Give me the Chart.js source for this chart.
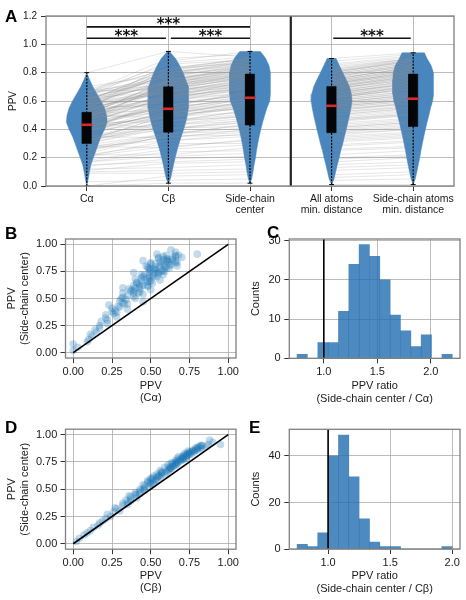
<!DOCTYPE html>
<html><head><meta charset="utf-8">
<script src="https://cdn.jsdelivr.net/npm/chart.js@4.4.0/dist/chart.umd.min.js"></script>
<style>
html,body{margin:0;padding:0;background:#fff;}
body{width:466px;height:600px;position:relative;overflow:hidden;font-family:'Liberation Sans',Arial,Helvetica,sans-serif;}
canvas{position:absolute;}
.lab{position:absolute;font:bold 17px 'Liberation Sans',Arial,sans-serif;line-height:17px;color:#000;z-index:5;}
</style></head><body>
<canvas id="cA" width="466" height="216" style="left:0;top:0"></canvas>
<canvas id="cB" width="240" height="180" style="left:0;top:230px"></canvas>
<canvas id="cC" width="226" height="180" style="left:240px;top:230px"></canvas>
<canvas id="cD" width="240" height="180" style="left:0;top:420px"></canvas>
<canvas id="cE" width="226" height="180" style="left:240px;top:420px"></canvas>
<div class="lab" style="left:5px;top:8px">A</div>
<div class="lab" style="left:5px;top:225px">B</div>
<div class="lab" style="left:267px;top:224px">C</div>
<div class="lab" style="left:5px;top:419px">D</div>
<div class="lab" style="left:249px;top:419px">E</div>
<script>
// ---------- DATA ----------
const catLabels = [['Cα'], ['Cβ'], ['Side-chain', 'center'], ['All atoms', 'min. distance'], ['Side-chain atoms', 'min. distance']];
const catPos = [0, 1, 2, 3, 4];
const yTicksA = [0, 0.2, 0.4, 0.6, 0.8, 1.0, 1.2];

// per-protein PPV values
const ppvSC = [.02,.05,.08,.10,.12,.15,.17,.19,.21,.23, .25,.27,.29,.30,.32,.33,.35,.36,.37,.38, .39,.40,.41,.42,.43,.44,.45,.46,.47,.48, .49,.50,.51,.52,.53,.54,.55,.55,.56,.57, .57,.58,.59,.59,.60,.60,.61,.61,.62,.62, .63,.64,.65,.66,.66,.67,.68,.69,.70,.70, .71,.72,.72,.73,.74,.74,.75,.76,.76,.77, .77,.78,.78,.79,.79,.80,.80,.81,.81,.82, .82,.83,.83,.84,.84,.85,.85,.86,.86,.87, .87,.88,.88,.89,.90,.90,.91,.93,.95,.91,
  .62,.64,.66,.68,.70,.72,.74,.76,.78,.80, .82,.84,.86,.88,.90,.65,.69,.73,.77,.81, .85,.89,.58,.55,.50,.45,.83,.79,.75,.71];
const ppvCa = [.00,.03,.00,.09,.10,.12,.11,.15,.14,.17, .17,.22,.18,.22,.21,.28,.21,.26,.28,.25, .27,.35,.25,.30,.29,.23,.35,.32,.45,.30, .34,.40,.32,.39,.35,.45,.32,.39,.43,.37, .39,.50,.36,.43,.40,.32,.48,.43,.48,.39, .43,.51,.41,.49,.44,.56,.40,.49,.54,.45, .49,.58,.44,.53,.49,.39,.59,.54,.58,.49, .53,.62,.49,.59,.53,.67,.47,.58,.62,.53, .57,.66,.50,.61,.56,.45,.66,.61,.64,.55, .60,.70,.55,.66,.60,.68,.54,.66,.63,.80,
  .45,.41,.50,.47,.52,.46,.55,.50,.60,.56, .50,.62,.58,.64,.66,.48,.44,.55,.52,.63, .60,.58,.38,.42,.31,.33,.67,.48,.57,.51];
const ppvCb = [.02,.04,.07,.09,.11,.13,.16,.17,.19,.21, .24,.22,.26,.30,.28,.27,.32,.35,.32,.35, .37,.34,.37,.41,.37,.36,.41,.43,.40,.43, .46,.43,.46,.49,.46,.45,.50,.52,.48,.49, .52,.48,.51,.54,.51,.50,.54,.56,.52,.55, .57,.54,.57,.61,.57,.56,.61,.63,.59,.62, .65,.61,.64,.67,.64,.63,.67,.69,.66,.68, .71,.67,.70,.73,.70,.68,.73,.74,.71,.73, .76,.72,.75,.78,.75,.74,.77,.80,.77,.80, .83,.79,.82,.86,.83,.82,.87,.90,.88,.95,
  .55,.59,.60,.62,.63,.66,.67,.69,.72,.71, .75,.76,.79,.80,.83,.57,.63,.66,.70,.73, .78,.81,.53,.50,.45,.40,.74,.71,.66,.64];
const ppvAll = [.01,.04,.06,.08,.11,.13,.15,.17,.19,.20, .22,.25,.26,.28,.29,.31,.32,.33,.34,.35, .36,.37,.38,.38,.39,.40,.41,.42,.43,.44, .45,.46,.47,.47,.48,.49,.50,.51,.52,.52, .53,.54,.54,.55,.55,.56,.56,.57,.57,.58, .58,.59,.60,.60,.61,.61,.62,.62,.63,.62, .63,.64,.64,.65,.65,.66,.66,.67,.68,.68, .69,.69,.70,.70,.71,.71,.72,.72,.73,.73, .74,.74,.75,.75,.76,.77,.77,.78,.79,.79, .80,.81,.81,.82,.83,.84,.85,.86,.88,.90,
  .56,.58,.60,.62,.63,.65,.67,.69,.70,.72, .74,.76,.78,.80,.82,.59,.62,.66,.70,.73, .77,.80,.53,.50,.46,.41,.75,.72,.68,.64];
const ppvSCmin = [.01,.05,.08,.10,.13,.15,.17,.20,.21,.22, .25,.27,.28,.31,.32,.34,.35,.36,.37,.38, .40,.40,.41,.42,.43,.44,.45,.46,.47,.48, .50,.50,.51,.52,.53,.54,.55,.56,.56,.57, .58,.58,.59,.60,.60,.61,.61,.62,.62,.63, .63,.64,.65,.66,.67,.67,.68,.69,.70,.71, .71,.72,.73,.73,.74,.75,.75,.76,.77,.77, .78,.78,.79,.79,.80,.80,.81,.81,.82,.82, .83,.83,.84,.84,.85,.85,.86,.86,.87,.87, .88,.88,.89,.89,.90,.90,.91,.92,.93,.94,
  .61,.65,.66,.69,.70,.73,.74,.75,.78,.81, .82,.83,.86,.89,.90,.64,.69,.72,.77,.80, .85,.88,.59,.55,.51,.45,.84,.79,.76,.71];

// violin outlines: PPV levels and relative half-widths
const violinY = [
  [0,.05,.10,.15,.20,.25,.30,.35,.40,.45,.50,.55,.60,.65,.70,.75,.80],
  [.02,.05,.10,.15,.20,.25,.30,.35,.40,.45,.50,.55,.60,.65,.70,.75,.80,.85,.90,.95],
  [.02,.05,.10,.15,.20,.25,.30,.35,.40,.45,.50,.55,.60,.65,.70,.75,.80,.85,.90,.93,.95],
  [.01,.05,.10,.15,.20,.25,.30,.35,.40,.45,.50,.55,.60,.65,.70,.75,.80,.85,.90],
  [.01,.05,.10,.15,.20,.25,.30,.35,.40,.45,.50,.55,.60,.65,.70,.75,.80,.85,.90,.94]
];
const violinW = [
  [0,.07,.13,.20,.32,.45,.57,.70,.87,1.0,.97,.87,.70,.50,.30,.14,0],
  [0,.10,.18,.25,.33,.42,.52,.63,.75,.85,.93,.98,1.0,1.0,.97,.85,.72,.55,.35,.05],
  [0,.08,.15,.20,.27,.32,.38,.45,.53,.62,.72,.83,.97,1.0,1.0,1.0,1.0,.93,.77,.62,.50],
  [0,.12,.20,.28,.37,.45,.55,.63,.72,.80,.88,.95,1.0,.97,.88,.72,.55,.38,.22],
  [0,.10,.18,.25,.32,.38,.45,.52,.60,.68,.77,.85,.95,1.0,1.0,1.0,.98,.88,.68,.55]
];
// box-plot statistics
const boxMin = [0.0, 0.02, 0.02, 0.01, 0.01];
const boxQ1  = [0.30, 0.38, 0.43, 0.376, 0.42];
const boxMed = [0.432, 0.545, 0.623, 0.566, 0.616];
const boxQ3  = [0.52, 0.70, 0.79, 0.703, 0.79];
const boxMax = [0.80, 0.95, 0.95, 0.90, 0.94];
// significance brackets
const sigX1 = [0, 1.03, 0, 3.02];
const sigX2 = [0.97, 2, 2, 3.97];
const sigY  = [1.043, 1.043, 1.123, 1.043];
const sigText = ['***', '***', '***', '***'];
const sepX = [2.5];

// scatter panels
const ticksUnit = [0, 0.25, 0.5, 0.75, 1.0];
const identity = [0, 1];

// histograms
const histCx = [0.798,0.895,0.992,1.088,1.185,1.282,1.378,1.475,1.572,1.668,1.765,1.862,1.958,2.055,2.152];
const histCn = [1,0,4,4,12,24,29,26,20,11,7,3,6,0,1];
const histEx = [0.792,0.875,0.958,1.042,1.125,1.208,1.292,1.375,1.458,1.542,1.625,1.708,1.792,1.875,1.958];
const histEn = [2,1,7,40,49,31,13,3,1,1,0,0,0,0,1];
const ratioRef = [1.0];
const ticksRatio = [1.0, 1.5, 2.0];
const ticksCountC = [0, 10, 20, 30];
const ticksCountE = [0, 20, 40];

// ---------- STYLE ----------
Chart.defaults.font.family = "'Liberation Sans', Arial, Helvetica, sans-serif";
Chart.defaults.color = '#1a1a1a';
const GRID = '#ababab', FRAME = '#808080', TICKC = '#333';
const VIOLIN = '#4a86be';
const HIST = 'rgba(38,112,178,0.82)';
const PT = 'rgba(31,119,180,0.27)';
const LINEGRAY = 'rgba(140,140,140,0.28)';
const VHALF = 0.25, BOXHALF = 0.056, MEDHALF = 0.068, CAPHALF = 0.03;

const framePlugin = {
  id: 'frame',
  afterDatasetsDraw(chart, args, o) {
    const a = chart.chartArea, c = chart.ctx;
    c.save(); c.strokeStyle = o.color || FRAME; c.lineWidth = o.width || 1.2;
    c.strokeRect(a.left, a.top, a.width, a.height); c.restore();
  }
};
const sigPlugin = {
  id: 'sig',
  afterDatasetsDraw(chart) {
    const {ctx, scales: {x, y}} = chart;
    ctx.save();
    ctx.font = "bold 15px 'DejaVu Sans', sans-serif";
    ctx.textAlign = 'center'; ctx.textBaseline = 'alphabetic'; ctx.fillStyle = '#111';
    sigText.forEach((t, i) => {
      const px = (x.getPixelForValue(sigX1[i]) + x.getPixelForValue(sigX2[i])) / 2;
      const py = y.getPixelForValue(sigY[i]);
      ctx.fillText(t, px, py + 2.5);
    });
    ctx.restore();
  }
};

function axis(o) {
  const horiz = o.pos === 'bottom';
  return {
    type: 'linear', position: o.pos, min: o.min, max: o.max, bounds: 'data', offset: false,
    afterBuildTicks: s => { s.ticks = o.ticks.map(v => ({value: v})); },
    afterFit: s => { if (horiz) s.height = o.size; else s.width = o.size;
      s.paddingLeft = 0; s.paddingRight = 0; s.paddingTop = 0; s.paddingBottom = 0; },
    grid: {color: GRID, lineWidth: 0.8, tickColor: TICKC, tickLength: 5, tickWidth: 1, drawTicks: true, offset: false},
    border: {display: false},
    ticks: {autoSkip: false, maxRotation: 0, minRotation: 0, padding: o.tickPad,
      font: {size: o.fontSize, lineHeight: o.tickLH || 1.2}, callback: o.fmt, color: '#1a1a1a'},
    title: {display: !!o.title, text: o.title, font: o.titleFont, padding: o.titlePad, color: '#1a1a1a'}
  };
}
const baseOpts = (padding) => ({
  responsive: false, animation: false, events: [],
  layout: {padding},
  plugins: {legend: {display: false}, tooltip: {enabled: false}, frame: {color: FRAME, width: 1.3}}
});

// ---------- PANEL A ----------
const dsA = [];
violinY.forEach((ys, i) => {
  const ws = violinW[i], c = catPos[i], pts = [];
  for (let k = 0; k < ys.length; k++) pts.push({x: c + ws[k] * VHALF, y: ys[k]});
  for (let k = ys.length - 1; k >= 0; k--) pts.push({x: c - ws[k] * VHALF, y: ys[k]});
  dsA.push({data: pts, fill: 'shape', backgroundColor: VIOLIN, borderColor: VIOLIN, borderWidth: 0.5, pointRadius: 0, order: 10});
});
for (let i = 0; i < ppvSC.length; i++) {
  dsA.push({data: [{x: catPos[0], y: ppvCa[i]}, {x: catPos[1], y: ppvCb[i]}, {x: catPos[2], y: ppvSC[i]}],
    borderColor: LINEGRAY, borderWidth: 0.8, pointRadius: 0, fill: false, order: 9});
  dsA.push({data: [{x: catPos[3], y: ppvAll[i]}, {x: catPos[4], y: ppvSCmin[i]}],
    borderColor: LINEGRAY, borderWidth: 0.8, pointRadius: 0, fill: false, order: 9});
}
catPos.forEach((c, i) => {
  dsA.push({data: [{x: c, y: boxMin[i]}, {x: c, y: boxMax[i]}], borderColor: '#000', borderWidth: 1.2, borderDash: [2, 1.3], pointRadius: 0, order: 7});
  dsA.push({data: [{x: c - CAPHALF, y: boxMin[i]}, {x: c + CAPHALF, y: boxMin[i]}], borderColor: '#000', borderWidth: 1, pointRadius: 0, order: 7});
  dsA.push({data: [{x: c - CAPHALF, y: boxMax[i]}, {x: c + CAPHALF, y: boxMax[i]}], borderColor: '#000', borderWidth: 1, pointRadius: 0, order: 7});
  dsA.push({data: [{x: c - BOXHALF, y: boxQ1[i]}, {x: c + BOXHALF, y: boxQ1[i]}, {x: c + BOXHALF, y: boxQ3[i]}, {x: c - BOXHALF, y: boxQ3[i]}, {x: c - BOXHALF, y: boxQ1[i]}],
    fill: 'shape', backgroundColor: '#050505', borderColor: '#050505', borderWidth: 0.5, pointRadius: 0, order: 6});
  dsA.push({data: [{x: c - MEDHALF, y: boxMed[i]}, {x: c + MEDHALF, y: boxMed[i]}], borderColor: '#d42a2a', borderWidth: 2.6, pointRadius: 0, order: 5});
});
sepX.forEach(s => dsA.push({data: [{x: s, y: yTicksA[0]}, {x: s, y: yTicksA[yTicksA.length - 1]}], borderColor: '#222', borderWidth: 2.2, pointRadius: 0, order: 3}));
sigY.forEach((yy, i) => dsA.push({data: [{x: sigX1[i], y: yy}, {x: sigX2[i], y: yy}], borderColor: '#111', borderWidth: 1.7, pointRadius: 0, order: 2}));

new Chart(document.getElementById('cA'), {
  type: 'line',
  data: {datasets: dsA},
  options: Object.assign(baseOpts({top: 16, right: 12, left: 0, bottom: 0}), {
    scales: {
      x: axis({pos: 'bottom', min: -0.5, max: 4.5, ticks: catPos, fmt: v => catLabels[v], size: 30, fontSize: 10.5, tickLH: 1.1, tickPad: 2.2}),
      y: axis({pos: 'left', min: 0, max: 1.2, ticks: yTicksA, fmt: v => v.toFixed(1), size: 46, fontSize: 10, tickPad: 4,
        title: 'PPV', titleFont: {size: 10}, titlePad: {top: 7, bottom: 0}})
    }
  }),
  plugins: [framePlugin, sigPlugin]
});

// ---------- PANELS B & D ----------
function scatterPanel(id, xs, ys, xTitle, pad, xh) {
  new Chart(document.getElementById(id), {
    type: 'scatter',
    data: {datasets: [
      {type: 'line', data: identity.map(v => ({x: v, y: v})), borderColor: '#000', borderWidth: 1.6, pointRadius: 0, order: 0},
      {data: xs.map((v, i) => ({x: v, y: ys[i]})), backgroundColor: PT, borderWidth: 0, pointRadius: 3.8, order: 1}
    ]},
    options: Object.assign(baseOpts(pad), {
      scales: {
        x: axis({pos: 'bottom', min: -0.05, max: 1.05, ticks: ticksUnit, fmt: v => v.toFixed(2), size: xh, fontSize: 11, tickPad: 2.5,
          title: xTitle, titleFont: {size: 11, lineHeight: 1.15}, titlePad: {top: 0, bottom: 5.5}}),
        y: axis({pos: 'left', min: -0.05, max: 1.05, ticks: ticksUnit, fmt: v => v.toFixed(2), size: 65.5, fontSize: 11, tickPad: 3.2,
          title: ['PPV', '(Side-chain center)'], titleFont: {size: 11, lineHeight: 1.15}, titlePad: {top: 5.7, bottom: 0}})
      }
    }),
    plugins: [framePlugin]
  });
}
scatterPanel('cB', ppvCa, ppvSC, ['PPV', '(Cα)'], {top: 9, right: 3, left: 0, bottom: 0}, 52);
scatterPanel('cD', ppvCb, ppvSC, ['PPV', '(Cβ)'], {top: 9.2, right: 3, left: 0, bottom: 0}, 50.8);

// ---------- PANELS C & E ----------
function histPanel(id, xs, ns, xmin, xmax, ymax, yticks, xTitle, pad, xh) {
  new Chart(document.getElementById(id), {
    type: 'bar',
    data: {datasets: [
      {type: 'line', data: [{x: ratioRef[0], y: 0}, {x: ratioRef[0], y: ymax}], borderColor: '#000', borderWidth: 1.6, pointRadius: 0, order: 0},
      {type: 'bar', data: xs.map((v, i) => ({x: v, y: ns[i]})), backgroundColor: HIST, borderWidth: 0, barPercentage: 1, categoryPercentage: 1, order: 1}
    ]},
    options: Object.assign(baseOpts(pad), {
      scales: {
        x: axis({pos: 'bottom', min: xmin, max: xmax, ticks: ticksRatio, fmt: v => v.toFixed(1), size: xh, fontSize: 11, tickPad: 2.5,
          title: xTitle, titleFont: {size: 11, lineHeight: 1.15}, titlePad: {top: 0, bottom: 5}}),
        y: axis({pos: 'left', min: 0, max: ymax, ticks: yticks, fmt: v => String(v), size: 49.3, fontSize: 11, tickPad: 3.6,
          title: 'Counts', titleFont: {size: 11}, titlePad: {top: 9.4, bottom: 0}})
      }
    }),
    plugins: [framePlugin]
  });
}
histPanel('cC', histCx, histCn, 0.6775, 2.2725, 30.45, ticksCountC, ['PPV ratio', '(Side-chain center / Cα)'], {top: 9, right: 6, left: 0, bottom: 0}, 51.7);
histPanel('cE', histEx, histEn, 0.6875, 2.0625, 51.45, ticksCountE, ['PPV ratio', '(Side-chain center / Cβ)'], {top: 9.3, right: 6, left: 0, bottom: 0}, 51);
</script>
</body></html>
